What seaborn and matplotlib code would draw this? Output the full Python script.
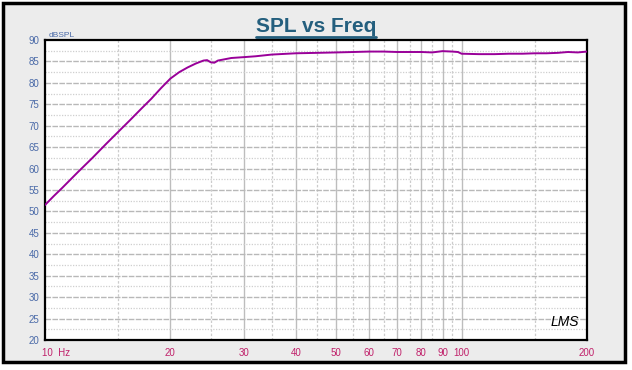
import numpy as np
import pandas as pd
import matplotlib
matplotlib.use("Agg")
import matplotlib.pyplot as plt
import matplotlib.transforms as mtransforms
import seaborn as sns
from matplotlib.patches import Rectangle
from matplotlib.lines import Line2D

# ---- data ----
freq = [10, 10.5, 11, 12, 13, 14, 15, 16, 17, 18, 19, 20, 21, 22, 23, 24, 24.5,
        25, 25.5, 26, 28, 30, 32, 35, 40, 45, 50, 55, 60, 65, 70, 75, 80, 85,
        90, 95, 98, 100, 110, 120, 130, 140, 150, 160, 170, 180, 190, 200]
spl = [51.5, 53.6, 55.5, 59.2, 62.5, 65.7, 68.6, 71.3, 73.9, 76.3, 78.8, 81.0,
       82.5, 83.6, 84.5, 85.2, 85.3, 84.8, 84.7, 85.2, 85.8, 86.0, 86.2, 86.6,
       86.9, 87.0, 87.1, 87.2, 87.3, 87.3, 87.2, 87.2, 87.2, 87.1, 87.4, 87.3,
       87.2, 86.8, 86.7, 86.7, 86.8, 86.8, 86.9, 86.9, 87.0, 87.2, 87.1, 87.3]

x_ticks = [10, 20, 30, 40, 50, 60, 70, 80, 90, 100, 200]
x_labels = ["10  Hz", "20", "30", "40", "50", "60", "70", "80", "90", "100", "200"]
x_minor = [15, 25, 35, 45, 55, 65, 75, 85, 95, 150]
y_ticks = [20, 25, 30, 35, 40, 45, 50, 55, 60, 65, 70, 75, 80, 85, 90]
y_minor = [22.5, 27.5, 32.5, 37.5, 42.5, 47.5, 52.5, 57.5, 62.5, 67.5, 72.5,
           77.5, 82.5, 87.5]

df = pd.DataFrame({"freq": freq, "spl": spl})

sns.set_theme(style="white")
plt.rcParams["font.family"] = ["Liberation Sans", "DejaVu Sans"]

fig = plt.figure(figsize=(6.32, 3.70), dpi=100)
fig.patch.set_facecolor("white")

# gray panel with black border
fig.patches.append(Rectangle((3 / 632, 1 - 362 / 370), 622 / 632, 359 / 370,
                             transform=fig.transFigure, facecolor="#ececec",
                             edgecolor="black", linewidth=2.5, zorder=-5))

ax = fig.add_axes([45 / 632, 30 / 370, 542 / 632, 300 / 370])
ax.set_zorder(2)
ax.set_facecolor("white")

sns.lineplot(data=df, x="freq", y="spl", ax=ax, color="#990099", linewidth=1.4,
             zorder=5)

ax.set_xscale("log")
ax.set_xlim(10, 200)
ax.set_ylim(20, 90)

# grid lines
for v in x_ticks[1:-1]:
    ax.axvline(v, color="#bdbdbd", linewidth=1.0, zorder=1)
for v in x_minor:
    ax.axvline(v, color="#cccccc", linewidth=0.9, linestyle=(0, (2, 1.5)), zorder=1)
for v in y_ticks[1:-1]:
    ax.axhline(v, color="#b8b8b8", linewidth=1.0, linestyle=(0, (4, 1)), zorder=1)
for v in y_minor:
    ax.axhline(v, color="#cfcfcf", linewidth=0.9, linestyle=(0, (1, 1.2)), zorder=1)

ax.set_xticks(x_ticks)
ax.set_xticklabels(x_labels)
ax.xaxis.set_minor_locator(matplotlib.ticker.NullLocator())
ax.set_yticks(y_ticks)
ax.set_yticklabels([str(v) for v in y_ticks])
ax.tick_params(axis="x", length=0, pad=6, labelsize=7, labelcolor="#c0206a")
ax.tick_params(axis="y", length=0, pad=4, labelsize=7, labelcolor="#4a6aa8")
first = ax.get_xticklabels()[0]
first.set_ha("left")
first.set_transform(first.get_transform() +
                    mtransforms.ScaledTranslation(-3 / 100, 0, fig.dpi_scale_trans))
ax.set_xlabel("")
ax.set_ylabel("")
for s in ax.spines.values():
    s.set_color("black")
    s.set_linewidth(1.6)

# dBSPL unit label
fig.text(49 / 632, 1 - 37 / 370, "dBSPL", fontsize=6, color="#4a6aa8",
         ha="left", va="baseline")

# title with underline
title = fig.text(316 / 632, 1 - 32 / 370, "SPL vs Freq", fontsize=15,
                 fontweight="bold", color="#245f7e", ha="center", va="baseline")
fig.canvas.draw()
bb = title.get_window_extent(renderer=fig.canvas.get_renderer())
uy = 1 - 37 / 370
fig.add_artist(Line2D([bb.x0 / fig.bbox.width, bb.x1 / fig.bbox.width], [uy, uy],
                      transform=fig.transFigure, color="#245f7e", linewidth=2))

# LMS logo
ax.text(0.985, 0.035, "LMS", transform=ax.transAxes, fontsize=10,
        fontstyle="italic", color="black", ha="right", va="bottom", zorder=6)

fig.savefig("out.png", dpi=100)
